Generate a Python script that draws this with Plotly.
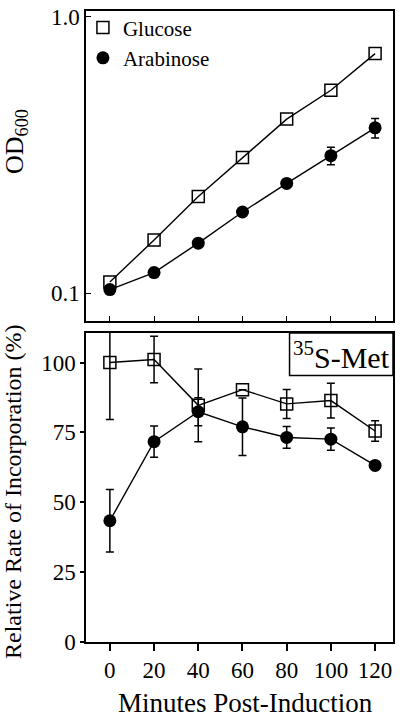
import plotly.graph_objects as go
from plotly.subplots import make_subplots

minutes = [0, 20, 40, 60, 80, 100, 120]

# Top panel: OD600 (log scale)
od_glucose = [0.110, 0.156, 0.224, 0.310, 0.427, 0.543, 0.737]
od_arabinose = [0.1033, 0.119, 0.152, 0.197, 0.250, 0.315, 0.397]
od_arabinose_err = [0, 0, 0, 0, 0, 0.023, 0.032]

# Bottom panel: relative rate of incorporation (%)
rate_glucose = [100.0, 101.1, 84.7, 90.3, 85.2, 86.4, 75.5]
rate_glucose_err = [20.4, 8.3, 13.0, 0, 5.2, 6.2, 3.7]
rate_arabinose = [43.4, 71.7, 82.4, 77.0, 73.2, 72.6, 63.2]
rate_arabinose_err = [11.2, 5.6, 5.0, 10.3, 3.9, 4.0, 0]

x_ticks = [0, 20, 40, 60, 80, 100, 120]
rate_ticks = [0, 25, 50, 75, 100]

FONT = "Liberation Serif"
LW = 1.4
SQ = dict(symbol="square-open", size=12, color="black", line=dict(width=1.5))
CI = dict(symbol="circle", size=13, color="black")

fig = make_subplots(rows=2, cols=1)

# top panel: connecting lines (no legend) + markers (legend)
fig.add_trace(go.Scatter(x=minutes, y=od_glucose, mode="lines", showlegend=False,
                         line=dict(color="black", width=LW)), row=1, col=1)
fig.add_trace(go.Scatter(x=minutes, y=od_arabinose, mode="lines", showlegend=False,
                         line=dict(color="black", width=LW)), row=1, col=1)
fig.add_trace(go.Scatter(x=minutes, y=od_glucose, name="Glucose", mode="markers",
                         marker=SQ), row=1, col=1)
fig.add_trace(go.Scatter(x=minutes, y=od_arabinose, name="Arabinose", mode="markers",
                         marker=CI,
                         error_y=dict(type="data", array=od_arabinose_err, color="black",
                                      thickness=1.5, width=4)), row=1, col=1)

fig.add_trace(go.Scatter(
    x=minutes, y=rate_glucose, name="Glucose", mode="lines+markers", showlegend=False,
    line=dict(color="black", width=LW), marker=SQ,
    error_y=dict(type="data", array=rate_glucose_err, color="black", thickness=1.5, width=4),
), row=2, col=1)
fig.add_trace(go.Scatter(
    x=minutes, y=rate_arabinose, name="Arabinose", mode="lines+markers", showlegend=False,
    line=dict(color="black", width=LW), marker=CI,
    error_y=dict(type="data", array=rate_arabinose_err, color="black", thickness=1.5, width=4),
), row=2, col=1)

axis_common = dict(showline=True, linecolor="black", linewidth=1.5, mirror=True,
                   showgrid=False, zeroline=False, tickcolor="black",
                   tickfont=dict(family=FONT, size=23, color="black"))

fig.update_xaxes(range=[-10.8, 128.1], tickvals=x_ticks, **axis_common)
fig.update_xaxes(row=1, col=1, ticks="inside", ticklen=5, showticklabels=False)
fig.update_xaxes(row=2, col=1, ticks="outside", ticklen=7, tickwidth=1.5)

fig.update_yaxes(row=1, col=1, type="log", range=[-1.1, 0.0215],
                 tickvals=[0.1, 1.0], ticktext=["0.1", "1.0"],
                 ticks="inside", ticklen=5, tickwidth=1.2,
                 domain=[0.5086, 1.0], **axis_common)
fig.update_yaxes(row=2, col=1, range=[0, 110.6], tickvals=rate_ticks,
                 ticks="outside", ticklen=4, tickwidth=1.5,
                 domain=[0.0, 0.4898], **axis_common)

# axis titles
fig.add_annotation(text="OD<sub>600</sub>", xref="paper", yref="paper",
                   x=-0.23, y=0.793, xanchor="center", yanchor="middle", textangle=-90,
                   showarrow=False, font=dict(family=FONT, size=26, color="black"))
fig.add_annotation(text="Relative Rate of Incorporation (%)", xref="paper", yref="paper",
                   x=-0.236, y=0.2386, xanchor="center", yanchor="middle", textangle=-90,
                   showarrow=False, font=dict(family=FONT, size=24, color="black"))
fig.add_annotation(text="Minutes Post-Induction", xref="paper", yref="paper",
                   x=0.521, y=-0.097, xanchor="center", yanchor="middle", showarrow=False,
                   font=dict(family=FONT, size=27, color="black"))

# 35S-Met boxed label
fig.add_shape(type="rect", xref="paper", yref="paper", x0=0.663, x1=1.0,
              y0=0.4223, y1=0.4898, line=dict(color="black", width=1.5), fillcolor="white")
fig.add_annotation(text="<sup>35</sup>S-Met", xref="paper", yref="paper",
                   x=0.8315, y=0.4545, xanchor="center", yanchor="middle", showarrow=False,
                   font=dict(family=FONT, size=30, color="black"))

fig.update_layout(
    width=400, height=717,
    margin=dict(l=86, r=5, t=5, b=75),
    paper_bgcolor="white", plot_bgcolor="white",
    showlegend=True,
    legend=dict(x=-0.01, y=1.0057, xanchor="left", yanchor="top",
                font=dict(family=FONT, size=21, color="black"),
                bgcolor="rgba(0,0,0,0)", itemwidth=30),
)

fig.write_html("out.html", config={"displayModeBar": False},
               post_script="document.body.style.margin='0px';document.body.style.overflow='hidden';")
